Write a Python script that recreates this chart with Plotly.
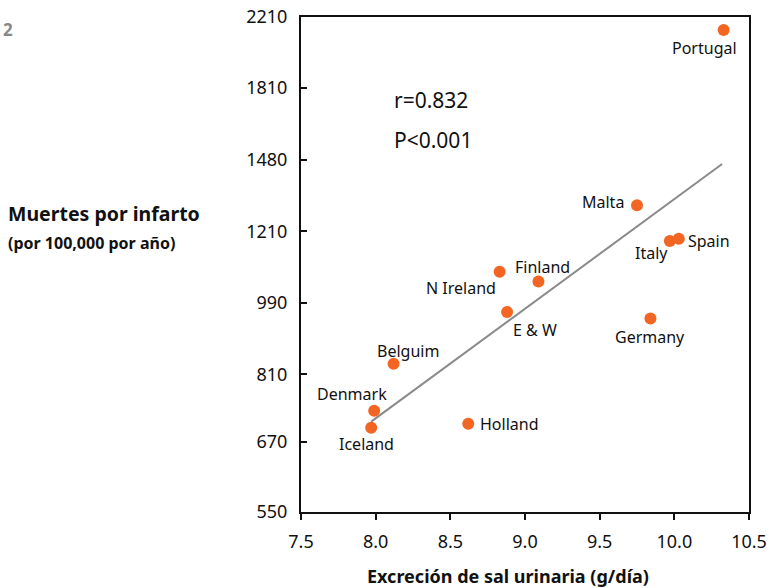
import numpy as np
import plotly.graph_objects as go

countries = ["Portugal", "Malta", "Italy", "Spain", "Germany", "Finland",
             "N Ireland", "E & W", "Belguim", "Denmark", "Iceland", "Holland"]
salt = [10.33, 9.75, 9.97, 10.03, 9.84, 9.09, 8.83, 8.88, 8.12, 7.99, 7.97, 8.62]
deaths = [2131, 1302, 1178, 1185, 947, 1051, 1080, 965, 834, 731, 697, 705]

fit_x = [7.97, 10.32]
fit_y = [709, 1462]

y_ticks = [550, 670, 810, 990, 1210, 1480, 1810, 2210]
x_ticks = [7.5, 8.0, 8.5, 9.0, 9.5, 10.0, 10.5]
x_ticktext = ["7.5", "8.0", "8.5", "9.0", "9.5", "10.0", "10.5"]

# label offsets (px): xshift, yshift (up positive), xanchor
label_pos = {
    "Portugal": (-19, -18, "center"),
    "Malta": (-11, 3, "right"),
    "Italy": (-18, -12, "center"),
    "Spain": (7, -2, "left"),
    "Germany": (0, -18, "center"),
    "Finland": (4, 15, "center"),
    "N Ireland": (-2, -16, "right"),
    "E & W": (4, -18, "left"),
    "Belguim": (14, 13, "center"),
    "Denmark": (-22, 17, "center"),
    "Iceland": (-5, -16, "center"),
    "Holland": (10, 0, "left"),
}

FONT = "Noto Sans"
fig = go.Figure()
fig.add_trace(go.Scatter(x=fit_x, y=fit_y, mode="lines",
                         line=dict(color="#8a8a8a", width=2), hoverinfo="skip"))
fig.add_trace(go.Scatter(x=salt, y=deaths, mode="markers",
                         marker=dict(color="#F26522", size=12), text=countries))

annotations = []
for c, xv, yv in zip(countries, salt, deaths):
    xs, ys, xa = label_pos[c]
    annotations.append(dict(x=xv, y=np.log10(yv), xref="x", yref="y", text=c,
                            showarrow=False, xshift=xs, yshift=ys, xanchor=xa,
                            yanchor="middle", font=dict(family=FONT, size=16, color="#111")))

L, R, T, B = 301, 749, 17, 512
def px(xp):
    return (xp - L) / (R - L)
def py(yp):
    return (B - yp) / (B - T)

annotations += [
    dict(x=px(392), y=py(100), xref="paper", yref="paper", text="r=0.832", showarrow=False,
         xanchor="left", yanchor="middle", font=dict(family=FONT, size=21, color="#111")),
    dict(x=px(392), y=py(140), xref="paper", yref="paper", text="P<0.001", showarrow=False,
         xanchor="left", yanchor="middle", font=dict(family=FONT, size=21, color="#111")),
    dict(x=px(6), y=py(213), xref="paper", yref="paper", text="<b>Muertes por infarto</b>",
         showarrow=False, xanchor="left", yanchor="middle",
         font=dict(family=FONT, size=19.5, color="#111")),
    dict(x=px(6), y=py(243), xref="paper", yref="paper", text="<b>(por 100,000 por año)</b>",
         showarrow=False, xanchor="left", yanchor="middle",
         font=dict(family=FONT, size=16, color="#111")),
    dict(x=px(508), y=py(576), xref="paper", yref="paper",
         text="<b>Excreción de sal urinaria (g/día)</b>", showarrow=False,
         xanchor="center", yanchor="middle", font=dict(family=FONT, size=18, color="#111")),
    dict(x=px(1), y=py(29), xref="paper", yref="paper", text="<b>2</b>", showarrow=False,
         xanchor="left", yanchor="middle", font=dict(family=FONT, size=17, color="#888")),
]

fig.update_layout(
    width=769, height=588,
    margin=dict(l=L, r=769 - R, t=T, b=588 - B),
    paper_bgcolor="white", plot_bgcolor="white",
    showlegend=False,
    annotations=annotations,
    font=dict(family=FONT, color="#111"),
)
fig.update_xaxes(range=[7.5, 10.5], tickvals=x_ticks, ticktext=x_ticktext,
                 showgrid=False, zeroline=False, showline=True, linecolor="#111",
                 linewidth=2, mirror=True, ticks="outside", ticklen=6, tickwidth=2,
                 tickcolor="#111", tickfont=dict(family=FONT, size=18, color="#111"),
                 ticklabelstandoff=6, automargin=False)
fig.update_yaxes(type="log", range=[np.log10(550), np.log10(2210)], tickvals=y_ticks,
                 ticktext=[str(v) for v in y_ticks],
                 showgrid=False, zeroline=False, showline=True, linecolor="#111",
                 linewidth=2, mirror=True, ticks="inside", ticklen=6, tickwidth=2,
                 tickcolor="#111", tickfont=dict(family=FONT, size=18, color="#111"),
                 ticklabelstandoff=8, automargin=False)

fig.write_html("out.html")
